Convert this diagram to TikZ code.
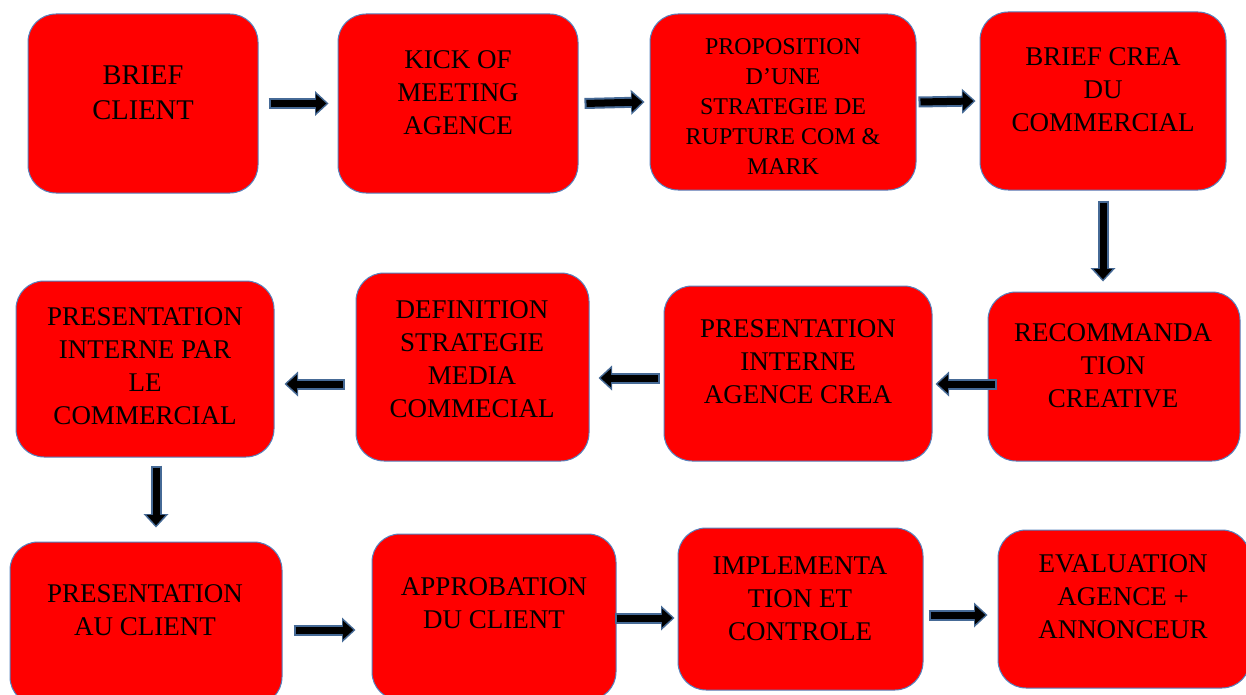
\documentclass[tikz,border=0pt]{standalone}
\usepackage{fontspec}
\setmainfont{Liberation Serif}
\usepackage{xcolor}
\usepackage{tikz}
\usetikzlibrary{arrows.meta}

\definecolor{boxred}{RGB}{255,0,0}
\definecolor{boxedge}{RGB}{86,130,190}
\definecolor{arrowedge}{RGB}{70,106,150}

\begin{document}
\begin{tikzpicture}[
  x=1pt, y=-1pt,
  box/.style={draw=boxedge, fill=boxred, line width=1pt, rounded corners=28pt, inner sep=0pt},
  txt/.style={align=center, font=\fontsize{27}{33}\selectfont, inner sep=0pt},
  flow/.style={line width=7pt, draw=black, shorten <=2pt, shorten >=2.2pt,
    -{Triangle[length=10.5pt, width=19pt, line width=0pt]},
    preaction={draw=arrowedge, line width=11pt, shorten <=0pt, shorten >=0pt,
      -{Triangle[length=13.5pt, width=25pt, line width=0pt]}}}
]
\useasboundingbox (0,0) rectangle (1246,695);

% Top row
\node[box, minimum width=230pt, minimum height=179pt] (b1) at (143,103.5) {};
\node[box, minimum width=240pt, minimum height=179pt] (b2) at (458,103.5) {};
\node[box, minimum width=266pt, minimum height=176pt] (b3) at (783,102) {};
\node[box, minimum width=246pt, minimum height=178pt] (b4) at (1103,101) {};

\node[txt, font=\fontsize{28.5}{35}\selectfont] (b1t) at (143,92.5) {BRIEF\\CLIENT};
\node[txt] (b2t) at (458,92.7) {KICK OF\\MEETING\\AGENCE};
\node[txt, font=\fontsize{24}{30}\selectfont] (b3t) at (783,106.5)
  {PROPOSITION\\D’UNE\\STRATEGIE DE\\RUPTURE COM \&\\MARK};
\node[txt] (b4t) at (1103,90) {BRIEF CREA\\DU\\COMMERCIAL};

% Middle row (runs right to left)
\node[box, minimum width=258pt, minimum height=176pt] (r1) at (145,369) {};
\node[box, minimum width=233pt, minimum height=188pt] (r2) at (472.5,367) {};
\node[box, minimum width=268pt, minimum height=175pt] (r3) at (798,373.5) {};
\node[box, minimum width=252pt, minimum height=169pt] (r4) at (1114,376.5) {};

\node[txt] (r1t) at (145,366.5) {PRESENTATION\\INTERNE PAR\\LE\\COMMERCIAL};
\node[txt] (r2t) at (472,359) {DEFINITION\\STRATEGIE\\MEDIA\\COMMECIAL};
\node[txt] (r3t) at (798,362) {PRESENTATION\\INTERNE\\AGENCE CREA};
\node[txt] (r4t) at (1113,365.5) {RECOMMANDA\\TION\\CREATIVE};

% Bottom row
\node[box, minimum width=272pt, minimum height=163pt] (c1) at (146,623.5) {};
\node[box, minimum width=244pt, minimum height=166pt] (c2) at (494,617) {};
\node[box, minimum width=245pt, minimum height=162pt] (c3) at (800.5,609) {};
\node[box, minimum width=252pt, minimum height=158pt] (c4) at (1124,609) {};

\node[txt] (c1t) at (145,610.5) {PRESENTATION\\AU CLIENT};
\node[txt] (c2t) at (494,603.5) {APPROBATION\\DU CLIENT};
\node[txt] (c3t) at (800,598.5) {IMPLEMENTA\\TION ET\\CONTROLE};
\node[txt] (c4t) at (1123,597) {EVALUATION\\AGENCE +\\ANNONCEUR};

% Arrows
\draw[flow] ([xshift=10pt]b1.east) -- ([xshift=-9pt]b2.west);
\draw[flow] ([xshift=6pt]b2.east) -- ([xshift=-5pt]b3.west);
\draw[flow] ([xshift=2pt]b3.east) -- ([xshift=-4pt]b4.west);
\draw[flow] ([yshift=-10pt]b4.south) -- ([yshift=10pt]b4.south |- r4.north);

\draw[flow] ([xshift=9pt,yshift=-7.5pt]r4.west) -- ([xshift=3pt,yshift=-7.5pt]r4.west -| r3.east);
\draw[flow] ([xshift=-4pt,yshift=-4.5pt]r3.west) -- ([xshift=9pt,yshift=-4.5pt]r3.west -| r2.east);
\draw[flow] ([xshift=-11pt,yshift=-17pt]r2.west) -- ([xshift=10pt,yshift=-17pt]r2.west -| r1.east);
\draw[flow] ([xshift=11pt,yshift=-8pt]r1.south) -- ([xshift=11pt,yshift=14pt]r1.south |- c1.north);

\draw[flow] ([xshift=11pt,yshift=-6.5pt]c1.east) -- ([xshift=-16pt,yshift=-6.5pt]c1.east -| c2.west);
\draw[flow] ([xshift=-2pt,yshift=-1pt]c2.east) -- ([xshift=-3pt,yshift=-1pt]c2.east -| c3.west);
\draw[flow] ([xshift=5pt,yshift=-6pt]c3.east) -- ([xshift=-10pt,yshift=-6pt]c3.east -| c4.west);

\end{tikzpicture}
\end{document}
